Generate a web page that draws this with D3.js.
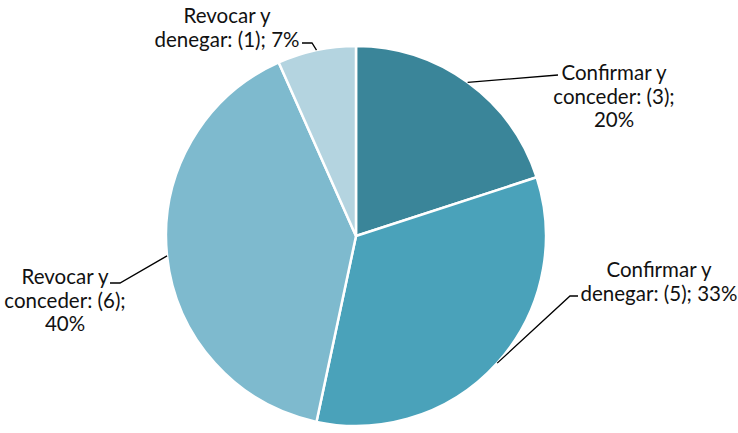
<!DOCTYPE html>
<html><head><meta charset="utf-8">
<script src="https://cdn.jsdelivr.net/npm/d3@7"></script>
<style>body{margin:0;background:#fff;}svg{display:block;}</style>
</head><body>
<svg id="c" width="738" height="433"></svg>
<script>
const categories = ["Confirmar y conceder", "Confirmar y denegar", "Revocar y conceder", "Revocar y denegar"];
const values = [3, 5, 6, 1];
const percentLabels = ["20%", "33%", "40%", "7%"];
const labelLines = [
  ["Confirmar y", "conceder: (3);", "20%"],
  ["Confirmar y", "denegar: (5); 33%"],
  ["Revocar y", "conceder: (6);", "40%"],
  ["Revocar y", "denegar: (1); 7%"]
];
const colors = ["#3A8599", "#4AA2BA", "#7EBACE", "#B4D4E0"];

const svg = d3.select("#c");
const cx = 356, cy = 236, r = 190;
const g = svg.append("g").attr("transform", `translate(${cx},${cy})`);
const pie = d3.pie().sort(null).value(d => d)(values);
const arc = d3.arc().innerRadius(0).outerRadius(r);
g.selectAll("path").data(pie).join("path")
  .attr("d", arc).attr("fill", (d, i) => colors[i])
  .attr("stroke", "#fff").attr("stroke-width", 2.5).attr("stroke-linejoin", "round");

const labelPos = [
  {x: 614, y: 80, line: [[558, 75]]},
  {x: 659, y: 277, line: [[570, 296], [578, 296]]},
  {x: 65, y: 284, line: [[120, 283], [110, 283]]},
  {x: 227, y: 23, line: [[312, 43], [302, 43]]}
];
const lineH = 23.5;
pie.forEach((d, i) => {
  const a = (d.startAngle + d.endAngle) / 2;
  const p0 = [cx + r * Math.sin(a), cy - r * Math.cos(a)];
  const pts = [p0].concat(labelPos[i].line);
  svg.append("path").attr("d", d3.line()(pts)).attr("fill", "none")
    .attr("stroke", "#000").attr("stroke-width", 1.3);
  const t = svg.append("text").attr("text-anchor", "middle")
    .attr("font-family", "Lato, 'Open Sans', sans-serif").attr("font-size", 20.5).attr("fill", "#111");
  labelLines[i].forEach((s, k) => {
    t.append("tspan").attr("x", labelPos[i].x).attr("y", labelPos[i].y + k * lineH).text(s);
  });
});
</script>
</body></html>
